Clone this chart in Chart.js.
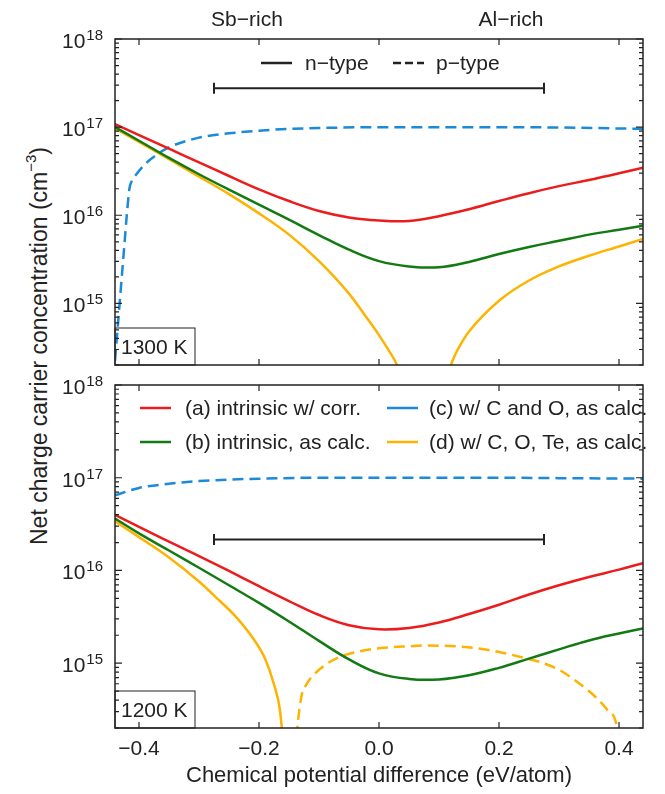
<!DOCTYPE html>
<html lang="en">
<head>
    <meta charset="UTF-8">
    <title>Net charge carrier concentration</title>
    <script src="https://cdn.jsdelivr.net/npm/chart.js@4"></script>
    <style>
        * { margin: 0; padding: 0; box-sizing: border-box; }
        body {
            background: #fff;
            width: 665px;
            height: 794px;
            position: relative;
            overflow: hidden;
            font-family: 'Liberation Sans', Arial, sans-serif;
            color: #222;
        }
        .panel { position: absolute; left: 0; }
        #topPanel { top: 0; }
        #bottomPanel { top: 375px; }
        .ytitle {
            position: absolute;
            left: 36px;
            top: 346px;
            transform: translate(-50%, -50%) rotate(-90deg);
            white-space: nowrap;
            font-size: 23px;
            line-height: 26px;
        }
        .ytitle sup { font-size: 15px; position: relative; top: -2px; }
    </style>
</head>
<body>
    <div class="ytitle">Net charge carrier concentration (cm<sup>−3</sup>)</div>
    <canvas id="topPanel" class="panel" width="665" height="375"></canvas>
    <canvas id="bottomPanel" class="panel" width="665" height="419"></canvas>

    <script>
        // axes
        const xTickValues = [-0.4, -0.2, 0.0, 0.2, 0.4];
        const yDecades = [1e15, 1e16, 1e17, 1e18];
        const nRange = [-0.275, 0.275];

        // 1300 K panel
        const x1300 = [-0.44, -0.40, -0.35, -0.30, -0.25, -0.20, -0.15, -0.10, -0.05, 0.00, 0.05, 0.10, 0.15, 0.20, 0.25, 0.30, 0.35, 0.40, 0.44];
        const red1300 = [1.08e17, 8.13e16, 5.69e16, 3.98e16, 2.79e16, 1.97e16, 1.45e16, 1.12e16, 9.44e15, 8.71e15, 8.61e15, 9.77e15, 1.17e16, 1.45e16, 1.78e16, 2.14e16, 2.51e16, 2.99e16, 3.47e16];
        const green1300 = [1.0e17, 7.0e16, 4.47e16, 2.92e16, 1.95e16, 1.32e16, 8.91e15, 5.96e15, 4.07e15, 3.02e15, 2.63e15, 2.57e15, 2.95e15, 3.63e15, 4.37e15, 5.13e15, 6.03e15, 6.84e15, 7.59e15];
        const orangeX1300 = [-0.44, -0.40, -0.35, -0.30, -0.25, -0.20, -0.15, -0.10, -0.05, -0.025, 0.00, 0.015, 0.03, 0.045, 0.08, 0.11, 0.115, 0.12, 0.125, 0.13, 0.14, 0.15, 0.20, 0.25, 0.30, 0.35, 0.40, 0.44];
        const orange1300 = [9.7e16, 6.8e16, 4.32e16, 2.75e16, 1.74e16, 1.05e16, 6.03e15, 3.02e15, 1.29e15, 7.59e14, 4.37e14, 3.02e14, 2.0e14, 1.0e14, null, 1.0e14, 1.51e14, 2.0e14, 2.45e14, 2.88e14, 3.8e14, 4.79e14, 1.07e15, 1.82e15, 2.63e15, 3.47e15, 4.42e15, 5.37e15];
        const blueX1300 = [-0.44, -0.435, -0.43, -0.425, -0.42, -0.416, -0.412, -0.405, -0.39, -0.37, -0.35, -0.30, -0.25, -0.20, -0.15, -0.10, 0.00, 0.10, 0.20, 0.30, 0.40, 0.44];
        const blue1300 = [2.24e14, 5.9e14, 1.55e15, 4.07e15, 1.07e16, 2.0e16, 2.45e16, 2.88e16, 3.8e16, 4.9e16, 5.9e16, 7.6e16, 8.5e16, 9.1e16, 9.55e16, 9.77e16, 1.0e17, 1.0e17, 1.0e17, 9.9e16, 9.66e16, 9.55e16];
        const nLevel1300 = 2.77e17;

        // 1200 K panel
        const x1200 = [-0.44, -0.40, -0.35, -0.30, -0.25, -0.20, -0.15, -0.10, -0.05, 0.00, 0.05, 0.10, 0.15, 0.20, 0.25, 0.30, 0.35, 0.40, 0.44];
        const red1200 = [3.98e16, 2.95e16, 2.04e16, 1.43e16, 9.89e15, 6.76e15, 4.68e15, 3.31e15, 2.57e15, 2.32e15, 2.4e15, 2.75e15, 3.39e15, 4.27e15, 5.5e15, 6.92e15, 8.51e15, 1.02e16, 1.2e16];
        const green1200 = [3.63e16, 2.51e16, 1.64e16, 1.07e16, 6.92e15, 4.47e15, 2.82e15, 1.74e15, 1.10e15, 7.76e14, 6.76e14, 6.68e14, 7.41e14, 8.91e14, 1.12e15, 1.41e15, 1.76e15, 2.09e15, 2.37e15];
        const orangeX1200 = [-0.44, -0.40, -0.35, -0.30, -0.27, -0.24, -0.21, -0.19, -0.175, -0.165, -0.158];
        const orange1200 = [3.39e16, 2.29e16, 1.38e16, 7.59e15, 5.01e15, 3.24e15, 1.86e15, 1.12e15, 5.89e14, 3.09e14, 1.0e14];
        const orangePX1200 = [-0.14, -0.136, -0.132, -0.128, -0.122, -0.115, -0.10, -0.08, -0.056, -0.03, 0.0, 0.04, 0.08, 0.12, 0.16, 0.20, 0.24, 0.27, 0.30, 0.33, 0.36, 0.38, 0.397, 0.402];
        const orangeP1200 = [6.9e13, 2.0e14, 3.4e14, 4.79e14, 5.75e14, 6.76e14, 8.5e14, 1.05e15, 1.23e15, 1.35e15, 1.45e15, 1.51e15, 1.55e15, 1.53e15, 1.46e15, 1.32e15, 1.15e15, 1.02e15, 8.5e14, 6.3e14, 4.37e14, 3.16e14, 2.0e14, 1.0e14];
        const blueX1200 = [-0.44, -0.40, -0.35, -0.30, -0.25, -0.20, -0.10, 0.00, 0.10, 0.20, 0.30, 0.44];
        const blue1200 = [6.46e16, 7.76e16, 8.6e16, 9.2e16, 9.55e16, 9.77e16, 1.0e17, 1.0e17, 1.0e17, 1.0e17, 9.9e16, 9.77e16];
        const nLevel1200 = 2.16e16;

        const INK = '#222';
        const FONT = "'Liberation Sans', Arial, sans-serif";
        const RED = '#ec1c1c', GREEN = '#127a12', BLUE = '#1b8ad8', ORANGE = '#fdb300';

        Chart.defaults.font.family = FONT;
        Chart.defaults.color = INK;

        const pts = (xs, ys) => xs.map((x, i) => ({ x: x, y: ys[i] }));

        // smooth curves (minima) use bezier tension, steep ones stay monotone
        function curve(data, color, dashed, steep) {
            return {
                data: data,
                borderColor: color,
                borderWidth: 2.5,
                borderDash: dashed ? [11, 6] : [],
                pointRadius: 0,
                spanGaps: false,
                tension: 0.4,
                cubicInterpolationMode: steep ? 'monotone' : 'default'
            };
        }

        function rangeBar(level) {
            return {
                data: nRange.map(x => ({ x: x, y: level })),
                borderColor: INK,
                borderWidth: 2,
                tension: 0,
                pointStyle: 'line',
                pointRotation: 90,
                pointRadius: 5.5,
                pointBorderWidth: 2,
                pointBorderColor: INK
            };
        }

        // frame, inward ticks, 10^n labels, legends and notes
        const panelDecor = {
            id: 'panelDecor',
            afterDraw(chart, args, opts) {
                const { ctx, chartArea: a, scales: { x, y } } = chart;
                ctx.save();
                ctx.strokeStyle = INK;
                ctx.fillStyle = INK;
                ctx.lineWidth = 1.5;
                ctx.strokeRect(a.left, a.top, a.right - a.left, a.bottom - a.top);

                ctx.lineWidth = 1.2;
                ctx.beginPath();
                xTickValues.forEach(v => {
                    const px = x.getPixelForValue(v);
                    ctx.moveTo(px, a.bottom); ctx.lineTo(px, a.bottom - 6);
                    ctx.moveTo(px, a.top); ctx.lineTo(px, a.top + 6);
                });
                for (let e = 14; e <= 18; e++) {
                    for (let m = 1; m <= 9; m++) {
                        const v = m * Math.pow(10, e);
                        if (v < y.min * 0.999 || v > y.max * 1.001) continue;
                        const py = y.getPixelForValue(v);
                        const len = m === 1 ? 7 : 4;
                        ctx.moveTo(a.left, py); ctx.lineTo(a.left + len, py);
                        ctx.moveTo(a.right, py); ctx.lineTo(a.right - len, py);
                    }
                }
                ctx.stroke();

                // decade labels
                ctx.textAlign = 'right';
                ctx.textBaseline = 'alphabetic';
                yDecades.forEach(v => {
                    const py = y.getPixelForValue(v);
                    const exp = String(Math.round(Math.log10(v)));
                    const right = a.left - 12;
                    ctx.font = '15px ' + FONT;
                    ctx.fillText(exp, right, py + 1);
                    const w = ctx.measureText(exp).width;
                    ctx.font = '21px ' + FONT;
                    ctx.fillText('10', right - w - 1, py + 9);
                });

                // temperature box
                ctx.lineWidth = 1;
                ctx.strokeRect(a.left, a.bottom - 37, 80, 37);
                ctx.textAlign = 'left';
                ctx.font = '21px ' + FONT;
                ctx.fillText(opts.temp, a.left + 6, a.bottom - 11.5);

                // composition labels above the top panel
                (opts.header || []).forEach(h => {
                    ctx.textAlign = 'center';
                    ctx.fillText(h.text, x.getPixelForValue(h.x), a.top - 13);
                });

                // legend entries
                ctx.textAlign = 'left';
                (opts.legend || []).forEach(it => {
                    const ly = a.top + it.y;
                    ctx.strokeStyle = it.color;
                    ctx.lineWidth = 2.5;
                    ctx.setLineDash(it.dash || []);
                    ctx.beginPath();
                    ctx.moveTo(a.left + it.x, ly);
                    ctx.lineTo(a.left + it.x + 31, ly);
                    ctx.stroke();
                    ctx.setLineDash([]);
                    ctx.fillText(it.text, a.left + it.x + it.gap, ly + 7);
                });
                ctx.restore();
            }
        };

        function baseOptions(padding, decor, bottomAxis) {
            const xScale = {
                type: 'linear',
                min: -0.44,
                max: 0.44,
                grid: { display: false, drawTicks: false },
                border: { display: false },
                ticks: { display: false },
                afterFit: s => { s.height = 0; }
            };
            if (bottomAxis) {
                xScale.ticks = {
                    display: true,
                    autoSkip: false,
                    padding: 9,
                    font: { size: 21 },
                    callback: v => (v < -1e-9 ? '−' : '') + Math.abs(v).toFixed(1)
                };
                xScale.afterBuildTicks = s => { s.ticks = xTickValues.map(v => ({ value: v })); };
                xScale.title = {
                    display: true,
                    text: 'Chemical potential difference (eV/atom)',
                    font: { size: 22 },
                    padding: { top: 0, bottom: 5 }
                };
                xScale.afterFit = s => { s.height = 66; };
            }
            return {
                responsive: false,
                animation: false,
                devicePixelRatio: 1,
                layout: { padding: padding },
                plugins: {
                    legend: { display: false },
                    tooltip: { enabled: false },
                    panelDecor: decor
                },
                scales: {
                    x: xScale,
                    y: {
                        type: 'logarithmic',
                        min: 2e14,
                        max: 1e18,
                        grid: { display: false, drawTicks: false },
                        border: { display: false },
                        ticks: { display: false },
                        afterFit: s => { s.width = 0; }
                    }
                }
            };
        }

        new Chart(document.getElementById('topPanel'), {
            type: 'line',
            data: {
                datasets: [
                    rangeBar(nLevel1300),
                    curve(pts(x1300, red1300), RED),
                    curve(pts(x1300, green1300), GREEN),
                    curve(pts(orangeX1300, orange1300), ORANGE, false, true),
                    curve(pts(blueX1300, blue1300), BLUE, true, true)
                ]
            },
            options: baseOptions({ left: 115, right: 22, top: 39, bottom: 10 }, {
                temp: '1300 K',
                header: [{ text: 'Sb−rich', x: -0.22 }, { text: 'Al−rich', x: 0.22 }],
                legend: [
                    { text: 'n−type', x: 146, y: 24, gap: 44, color: INK },
                    { text: 'p−type', x: 278, y: 24, gap: 43, color: INK, dash: [8, 4] }
                ]
            }, false),
            plugins: [panelDecor]
        });

        new Chart(document.getElementById('bottomPanel'), {
            type: 'line',
            data: {
                datasets: [
                    rangeBar(nLevel1200),
                    curve(pts(x1200, red1200), RED),
                    curve(pts(x1200, green1200), GREEN),
                    curve(pts(orangeX1200, orange1200), ORANGE, false, true),
                    curve(pts(orangePX1200, orangeP1200), ORANGE, true, true),
                    curve(pts(blueX1200, blue1200), BLUE, true, true)
                ]
            },
            options: baseOptions({ left: 115, right: 22, top: 10, bottom: 0 }, {
                temp: '1200 K',
                legend: [
                    { text: '(a) intrinsic w/ corr.', x: 25, y: 23, gap: 45, color: RED },
                    { text: '(b) intrinsic, as calc.', x: 25, y: 57, gap: 45, color: GREEN },
                    { text: '(c) w/ C and O, as calc.', x: 272, y: 23, gap: 42, color: BLUE },
                    { text: '(d) w/ C, O, Te, as calc.', x: 272, y: 57, gap: 42, color: ORANGE }
                ]
            }, true),
            plugins: [panelDecor]
        });
    </script>
</body>
</html>
